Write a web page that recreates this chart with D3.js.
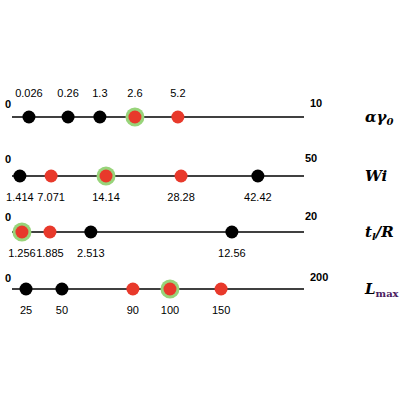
<!DOCTYPE html><html><head><script src="https://cdn.jsdelivr.net/npm/d3@7"></script>
<style>body{margin:0}</style></head><body><script>
const rowNames=["αγ","Wi","t_l/R","L"];
const rowMax=[10,50,20,200];
const alphaVals=[0.026,0.26,1.3,2.6,5.2], alphaLabels=["0.026","0.26","1.3","2.6","5.2"], alphaColors=["k","k","k","r","r"], alphaSel=[0,0,0,1,0];
const wiVals=[1.414,7.071,14.14,28.28,42.42], wiLabels=["1.414","7.071","14.14","28.28","42.42"], wiColors=["k","r","r","r","k"], wiSel=[0,0,1,0,0];
const tlVals=[1.256,1.885,2.513,12.56], tlLabels=["1.256","1.885","2.513","12.56"], tlColors=["r","r","k","k"], tlSel=[1,0,0,0];
const lVals=[25,50,90,100,150], lLabels=["25","50","90","100","150"], lColors=["k","k","r","r","r"], lSel=[0,0,0,1,0];
// schematic (non-linear) placement along each line
const alphaPos=[.058,.192,.301,.421,.568], wiPos=[.027,.134,.322,.579,.842], tlPos=[.034,.130,.270,.753], lPos=[.048,.171,.414,.541,.716];
const rows=[
 {vals:alphaVals,labels:alphaLabels,cols:alphaColors,sel:alphaSel,pos:alphaPos,max:10,y:117,above:true,maxY:107,maxX:310},
 {vals:wiVals,labels:wiLabels,cols:wiColors,sel:wiSel,pos:wiPos,max:50,y:176,above:false,maxY:162,maxX:305},
 {vals:tlVals,labels:tlLabels,cols:tlColors,sel:tlSel,pos:tlPos,max:20,y:232,above:false,maxY:220,maxX:305},
 {vals:lVals,labels:lLabels,cols:lColors,sel:lSel,pos:lPos,max:200,y:289,above:false,maxY:281,maxX:310}];
const svg=d3.select("body").append("svg").attr("width",400).attr("height",400).style("font-family","Arial, Liberation Sans, sans-serif");
const x0=12,x1=304;
const col={k:"#000",r:"#e8392b"};
rows.forEach(r=>{
 const s=d3.scaleLinear().domain([0,...r.vals,r.max]).range([x0,...r.pos.map(p=>x0+p*(x1-x0)),x1]);
 const g=svg.append("g");
 g.append("line").attr("x1",x0).attr("x2",x1).attr("y1",r.y).attr("y2",r.y).attr("stroke","#000").attr("stroke-width",1.6);
 g.append("text").attr("x",5).attr("y",r.maxY+(r.y-r.maxY)*0.1).attr("font-weight","bold").attr("font-size",11).text("0");
 g.append("text").attr("x",r.maxX).attr("y",r.maxY).attr("font-weight","bold").attr("font-size",11).text(r.max);
 r.vals.forEach((v,i)=>{
  const cx=s(v);
  if(r.sel[i]) g.append("circle").attr("cx",cx).attr("cy",r.y).attr("r",9.5).attr("fill","#98d47a");
  g.append("circle").attr("cx",cx).attr("cy",r.y).attr("r",6.5).attr("fill",col[r.cols[i]]);
  g.append("text").attr("x",cx).attr("y",r.above?r.y-20:r.y+25).attr("text-anchor","middle").attr("font-size",11).text(r.labels[i]);
 });
});
const lab=(y,html)=>svg.append("text").attr("x",365).attr("y",y).attr("font-family","DejaVu Serif, serif").attr("font-weight","bold").attr("font-style","italic").attr("font-size",15).html(html);
lab(122,'αγ<tspan font-size="10" dy="3">0</tspan>');
lab(181,'Wi');
lab(237,'t<tspan font-size="10" dy="3">l</tspan><tspan dy="-3">/R</tspan>');
lab(294,'L<tspan font-size="10" dy="3" font-style="normal" fill="#4b2060">max</tspan>');
</script></body></html>
